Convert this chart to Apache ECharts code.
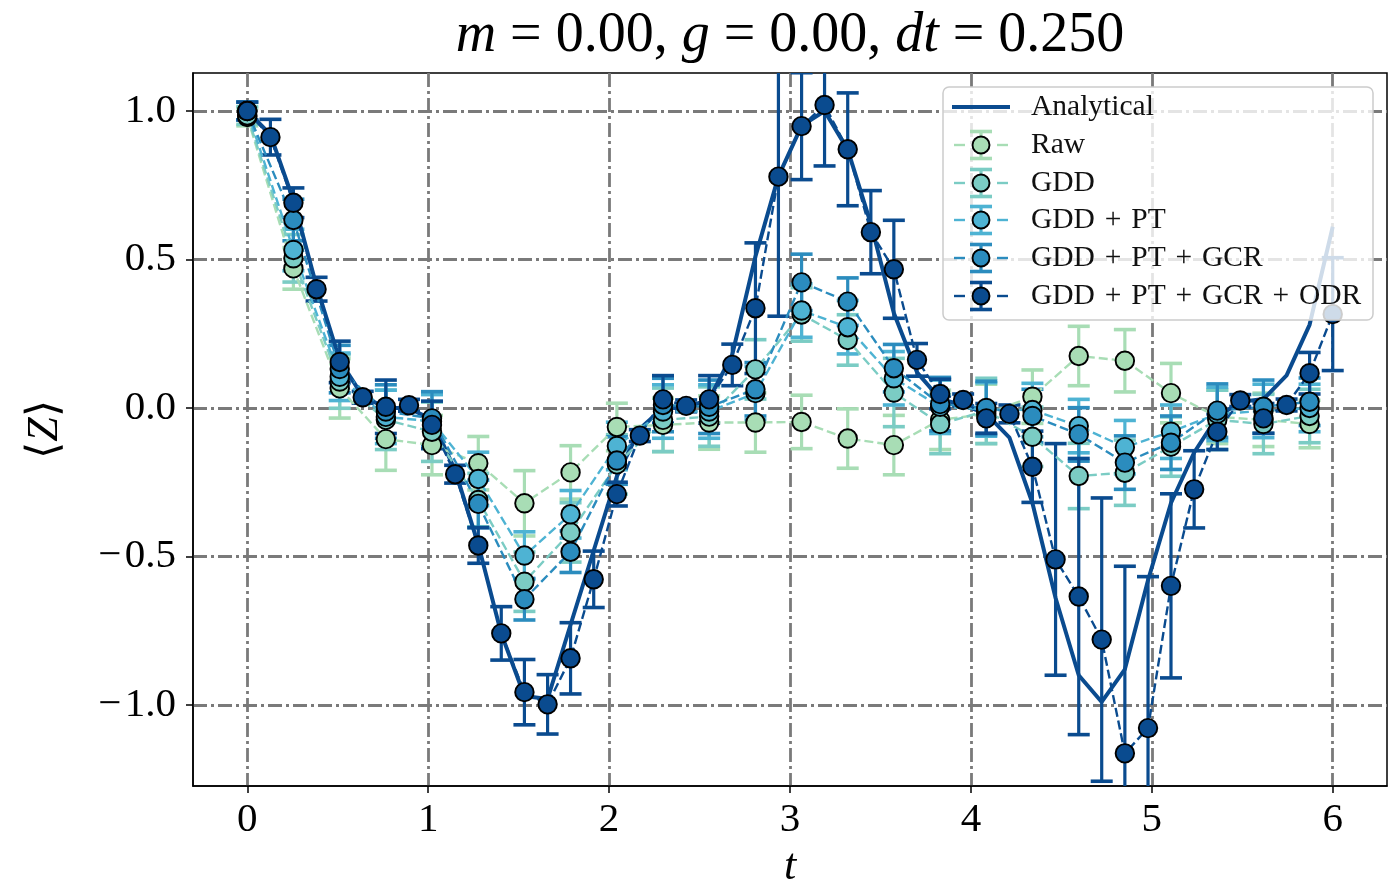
<!DOCTYPE html>
<html>
<head>
<meta charset="utf-8">
<script src="https://cdn.jsdelivr.net/npm/echarts@6/dist/echarts.min.js"></script>
<style>
  html, body { margin: 0; padding: 0; background: #ffffff; }
  #chart { width: 1394px; height: 883px; }
</style>
</head>
<body>
<div id="chart"></div>
<script>
// Time grid: 48 samples on [0, 6]; the noisy estimates use every other sample.
const tFine = [0.000, 0.128, 0.255, 0.383, 0.511, 0.638, 0.766, 0.894, 1.021, 1.149, 1.277, 1.404,
  1.532, 1.660, 1.787, 1.915, 2.043, 2.170, 2.298, 2.426, 2.553, 2.681, 2.809, 2.936,
  3.064, 3.191, 3.319, 3.447, 3.574, 3.702, 3.830, 3.957, 4.085, 4.213, 4.340, 4.468,
  4.596, 4.723, 4.851, 4.979, 5.106, 5.234, 5.362, 5.489, 5.617, 5.745, 5.872, 6.000];
const tCoarse = [0.000, 0.255, 0.511, 0.766, 1.021, 1.277, 1.532, 1.787, 2.043, 2.298, 2.553, 2.809,
  3.064, 3.319, 3.574, 3.830, 4.085, 4.340, 4.596, 4.851, 5.106, 5.362, 5.617, 5.872];

// Exact expectation value
const analytical = [1.00, 0.92, 0.70, 0.41, 0.16, 0.04, 0.00, 0.00, -0.04, -0.21, -0.46, -0.76,
  -0.97, -0.98, -0.73, -0.48, -0.23, -0.07, 0.00, 0.00, 0.03, 0.18, 0.51, 0.78,
  0.95, 1.00, 0.87, 0.62, 0.32, 0.12, 0.03, 0.01, -0.02, -0.10, -0.32, -0.64,
  -0.90, -0.99, -0.88, -0.58, -0.32, -0.15, -0.03, 0.02, 0.03, 0.11, 0.28, 0.61];

// Hardware estimates with one-sigma errors
const raw = [0.98, 0.47, 0.066, -0.105, -0.125, -0.186, -0.321, -0.217, -0.064, -0.057, -0.049, -0.049,
  -0.047, -0.103, -0.125, -0.04, -0.02, 0.038, 0.175, 0.159, 0.05, -0.03, -0.04, -0.054];
const rawErr = [0.03, 0.07, 0.10, 0.105, 0.10, 0.09, 0.11, 0.09, 0.08, 0.09, 0.09, 0.10,
  0.09, 0.10, 0.10, 0.10, 0.10, 0.09, 0.10, 0.105, 0.10, 0.09, 0.09, 0.08];

const gdd = [0.985, 0.504, 0.089, -0.04, -0.08, -0.31, -0.585, -0.419, -0.19, -0.04, -0.029, 0.130,
  0.315, 0.229, 0.052, -0.054, -0.01, -0.097, -0.229, -0.218, -0.13, -0.04, -0.054, -0.027];
const gddErr = [0.03, 0.08, 0.09, 0.10, 0.10, 0.09, 0.10, 0.10, 0.10, 0.107, 0.10, 0.10,
  0.09, 0.085, 0.115, 0.10, 0.11, 0.10, 0.11, 0.11, 0.10, 0.10, 0.10, 0.09];

const gddPt = [1.0, 0.532, 0.105, -0.03, -0.045, -0.239, -0.497, -0.358, -0.128, -0.012, -0.012, 0.05,
  0.328, 0.272, 0.10, 0.004, -0.005, -0.007, -0.061, -0.132, -0.08, -0.02, -0.01, 0.0];
const gddPtErr = [0.03, 0.07, 0.08, 0.09, 0.09, 0.09, 0.08, 0.08, 0.08, 0.09, 0.09, 0.09,
  0.09, 0.09, 0.09, 0.09, 0.09, 0.09, 0.09, 0.09, 0.09, 0.09, 0.09, 0.08];

const gddPtGcr = [1.0, 0.633, 0.131, -0.012, -0.035, -0.323, -0.644, -0.484, -0.177, 0.01, 0.004, 0.063,
  0.423, 0.358, 0.134, 0.013, 0.0, -0.027, -0.089, -0.184, -0.117, -0.009, 0.004, 0.021];
const gddPtGcrErr = [0.03, 0.07, 0.08, 0.09, 0.09, 0.08, 0.07, 0.07, 0.08, 0.09, 0.09, 0.09,
  0.095, 0.08, 0.08, 0.09, 0.09, 0.09, 0.09, 0.09, 0.09, 0.09, 0.09, 0.08];

const gddPtGcrOdr = [1.0, 0.912, 0.691, 0.40, 0.155, 0.036, 0.004, 0.009, -0.057, -0.223, -0.463, -0.759,
  -0.957, -0.998, -0.843, -0.577, -0.29, -0.093, 0.029, 0.007, 0.029, 0.145, 0.336, 0.779,
  0.949, 1.02, 0.871, 0.592, 0.467, 0.162, 0.047, 0.027, -0.035, -0.02, -0.198, -0.51,
  -0.635, -0.78, -1.163, -1.078, -0.599, -0.274, -0.08, 0.025, -0.035, 0.01, 0.117, 0.316];
const gddPtGcrOdrErr = [0.03, 0.06, 0.05, 0.04, 0.07, 0.02, 0.09, 0.02, 0.08, 0.03, 0.06, 0.09,
  0.11, 0.10, 0.12, 0.095, 0.04, 0.02, 0.08, 0.02, 0.08, 0.07, 0.22, 0.47,
  0.18, 0.205, 0.19, 0.14, 0.165, 0.055, 0.05, 0.02, 0.05, 0.03, 0.12, 0.39,
  0.465, 0.477, 0.63, 0.51, 0.31, 0.13, 0.06, 0.02, 0.05, 0.02, 0.07, 0.19];

// Axis ticks
const xTicks = [0, 1, 2, 3, 4, 5, 6];
const yTicks = [-1.0, -0.5, 0.0, 0.5, 1.0];

const SERIF = 'Liberation Serif';
const DARK = '#0a4b8f';

const estimates = [
  { name: 'Raw', ts: tCoarse, vals: raw, errs: rawErr, color: '#a8ddb5' },
  { name: 'GDD', ts: tCoarse, vals: gdd, errs: gddErr, color: '#7bccc4' },
  { name: 'GDD + PT', ts: tCoarse, vals: gddPt, errs: gddPtErr, color: '#4eb3d3' },
  { name: 'GDD + PT + GCR', ts: tCoarse, vals: gddPtGcr, errs: gddPtGcrErr, color: '#2b8cbe' },
  { name: 'GDD + PT + GCR + ODR', ts: tFine, vals: gddPtGcrOdr, errs: gddPtGcrOdrErr, color: DARK }
];

function errorBars(s) {
  return {
    type: 'custom',
    name: s.name + ' err',
    clip: true,
    silent: true,
    animation: false,
    data: s.ts.map((t, i) => [t, s.vals[i], s.errs[i]]),
    encode: { x: 0, y: 1 },
    renderItem: function (params, api) {
      const x = api.value(0), y = api.value(1), e = api.value(2);
      const lo = api.coord([x, y - e]);
      const hi = api.coord([x, y + e]);
      const hw = 11;
      const st = { stroke: s.color, lineWidth: 3.2 };
      const cap = { stroke: s.color, lineWidth: 3.6 };
      return {
        type: 'group',
        children: [
          { type: 'line', shape: { x1: lo[0], y1: lo[1], x2: hi[0], y2: hi[1] }, style: st },
          { type: 'line', shape: { x1: lo[0] - hw, y1: lo[1], x2: lo[0] + hw, y2: lo[1] }, style: cap },
          { type: 'line', shape: { x1: hi[0] - hw, y1: hi[1], x2: hi[0] + hw, y2: hi[1] }, style: cap }
        ]
      };
    }
  };
}

function pointsLine(s) {
  return {
    type: 'line',
    name: s.name,
    data: s.ts.map((t, i) => [t, s.vals[i]]),
    symbol: 'circle',
    symbolSize: 18.5,
    showSymbol: true,
    showAllSymbol: true,
    clip: true,
    animation: false,
    silent: true,
    lineStyle: { color: s.color, width: 2.4, type: [9, 4] },
    itemStyle: { color: s.color, borderColor: '#000000', borderWidth: 1.9 }
  };
}

const series = [{
  type: 'line',
  name: 'Analytical',
  data: tFine.map((t, i) => [t, analytical[i]]),
  symbol: 'none',
  clip: true,
  animation: false,
  silent: true,
  lineStyle: { color: DARK, width: 4 }
}];
estimates.forEach(s => { series.push(errorBars(s)); series.push(pointsLine(s)); });

// Legend drawn as graphic elements (line, error bar and marker icons)
const legendNames = ['Analytical'].concat(estimates.map(s => s.name));
const legendX = 943, legendY = 87, legendW = 430, legendH = 233;
const rowY = [107, 145, 183, 220, 258, 296];
const iconX = 981;
const legendEls = [{
  type: 'rect', z: 50,
  shape: { x: legendX, y: legendY, width: legendW, height: legendH, r: 6 },
  style: { fill: 'rgba(255,255,255,0.8)', stroke: '#cccccc', lineWidth: 1.5 }
}, {
  type: 'line', z: 51,
  shape: { x1: 952, y1: rowY[0], x2: 1010, y2: rowY[0] },
  style: { stroke: DARK, lineWidth: 4 }
}];
estimates.forEach((s, k) => {
  const y = rowY[k + 1];
  legendEls.push(
    { type: 'line', z: 51, shape: { x1: 954, y1: y, x2: 965, y2: y }, style: { stroke: s.color, lineWidth: 2.4 } },
    { type: 'line', z: 51, shape: { x1: 997, y1: y, x2: 1008, y2: y }, style: { stroke: s.color, lineWidth: 2.4 } },
    { type: 'line', z: 51, shape: { x1: iconX, y1: y - 13.5, x2: iconX, y2: y + 13.5 }, style: { stroke: s.color, lineWidth: 3.2 } },
    { type: 'line', z: 51, shape: { x1: iconX - 11, y1: y - 13.5, x2: iconX + 11, y2: y - 13.5 }, style: { stroke: s.color, lineWidth: 3.6 } },
    { type: 'line', z: 51, shape: { x1: iconX - 11, y1: y + 13.5, x2: iconX + 11, y2: y + 13.5 }, style: { stroke: s.color, lineWidth: 3.6 } },
    { type: 'circle', z: 52, shape: { cx: iconX, cy: y, r: 8.5 }, style: { fill: s.color, stroke: '#000000', lineWidth: 1.9 } }
  );
});
legendNames.forEach((n, k) => {
  legendEls.push({
    type: 'text', z: 52, x: 1031, y: rowY[k],
    style: { text: n.replace(/ \+ /g, '\u2004+\u2004'), fontFamily: SERIF, fontSize: 29.5, fill: '#111111', textVerticalAlign: 'middle', textAlign: 'left' }
  });
});

// Title with italic symbols
legendEls.push({
  type: 'text', z: 52, x: 790, y: 36,
  style: {
    text: '{i|m} = 0.00, {i|g} = 0.00, {i|dt} = 0.250',
    fontFamily: SERIF, fontSize: 56, fill: '#000000',
    textAlign: 'center', textVerticalAlign: 'middle',
    rich: { i: { fontFamily: SERIF, fontSize: 56, fontStyle: 'italic', fill: '#000000' } }
  }
});

function fmt(v) {
  return (v < 0 ? '\u2212\u200a' : '') + Math.abs(v).toFixed(1);
}

const gridLine = { show: true, lineStyle: { color: '#7a7a7a', width: 2.8, type: [14, 4, 3, 4] } };

const option = {
  backgroundColor: '#ffffff',
  animation: false,
  grid: {
    left: 193, right: 7, top: 73, bottom: 97,
    outerBoundsMode: 'none', containLabel: false,
    show: true, borderColor: '#000000', borderWidth: 1.5, backgroundColor: 'transparent'
  },
  xAxis: {
    type: 'value', min: -0.3, max: 6.3,
    name: 't', nameLocation: 'middle', nameGap: 54,
    nameTextStyle: { fontFamily: SERIF, fontSize: 44, fontStyle: 'italic', color: '#000' },
    axisLine: { show: true, onZero: false, lineStyle: { color: '#000', width: 1.5 } },
    axisTick: { show: true, length: 7, customValues: xTicks, lineStyle: { color: '#000', width: 1.5 } },
    axisLabel: { customValues: xTicks, margin: 14, fontFamily: SERIF, fontSize: 41, color: '#000', formatter: v => String(Math.round(v)) },
    splitLine: gridLine
  },
  yAxis: {
    type: 'value', min: -1.273, max: 1.128,
    name: '\u27e8{i|Z}\u27e9', nameLocation: 'middle', nameGap: 126,
    nameTextStyle: { fontFamily: SERIF, fontSize: 44, color: '#000', rich: { i: { fontFamily: SERIF, fontSize: 44, fontStyle: 'italic' } } },
    axisLine: { show: true, onZero: false, lineStyle: { color: '#000', width: 1.5 } },
    axisTick: { show: true, length: 7, customValues: yTicks, lineStyle: { color: '#000', width: 1.5 } },
    axisLabel: { customValues: yTicks, margin: 17, fontFamily: SERIF, fontSize: 41, color: '#000', formatter: fmt },
    splitLine: gridLine
  },
  graphic: { elements: legendEls },
  series: series
};

const chart = echarts.init(document.getElementById('chart'), null, { renderer: 'canvas' });
chart.setOption(option);
</script>
</body>
</html>
